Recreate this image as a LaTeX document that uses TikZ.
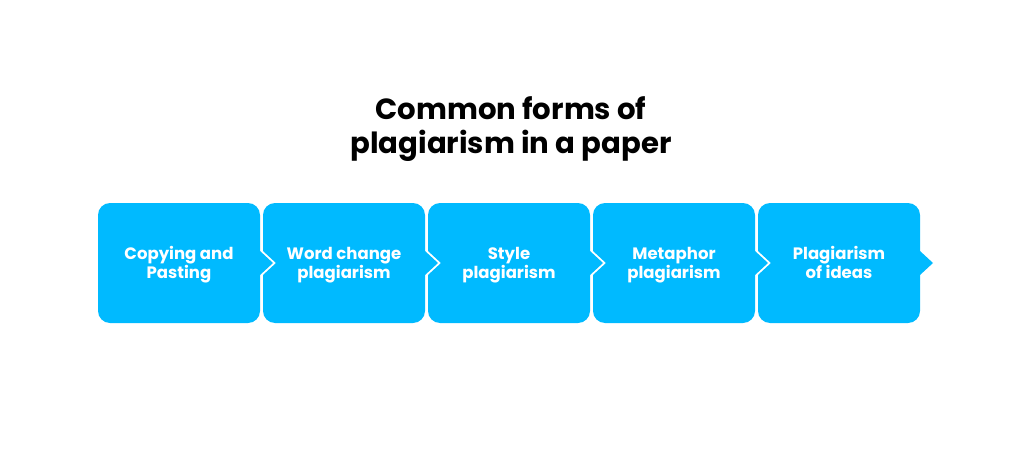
\documentclass[tikz,border=0pt]{standalone}
\usepackage{fontspec}
\setmainfont{Poppins}
\usetikzlibrary{positioning}
\definecolor{boxblue}{RGB}{0,186,255}
\newcommand{\fille}{\fill[boxblue]}

\begin{document}
\begin{tikzpicture}[
  titletext/.style={align=center, font=\bfseries\fontsize{16.6}{19.4}\selectfont, text=black},
  boxtext/.style={align=center, font=\bfseries\fontsize{9.4}{10.8}\selectfont, text=white}]
\useasboundingbox (0,0) rectangle (20.48,9.34);
% Title
\node[titletext] (title) at (10.22,6.76) {Common forms of\\plagiarism in a paper};

% Steps
\foreach \i/\txt in {0/{Copying and\strut\\Pasting\strut}, 1/{Word change\strut\\plagiarism\strut}, 2/{Style\strut\\plagiarism\strut}, 3/{Metaphor\strut\\plagiarism\strut}, 4/{Plagiarism\strut\\of ideas\strut}}{
  \pgfmathsetmacro\L{1.96+3.3*\i}
  \pgfmathsetmacro\R{\L+3.24}
  \pgfmathsetmacro\nd{ifthenelse(\i==0,0,0.26)}
  \fille (\L+0.24,5.28) -- (\R-0.24,5.28) arc (90:0:0.24) -- (\R,4.32) -- (\R+0.26,4.08)
     -- (\R,3.84) -- (\R,3.12) arc (0:-90:0.24) -- (\L+0.24,2.88) arc (270:180:0.24)
     -- (\L,3.84) -- (\L+\nd,4.08) -- (\L,4.32) -- (\L,5.04) arc (180:90:0.24) -- cycle;
  \node[boxtext] (step\i) at (\L+1.62,4.04) {\txt};
}
\end{tikzpicture}
\end{document}
